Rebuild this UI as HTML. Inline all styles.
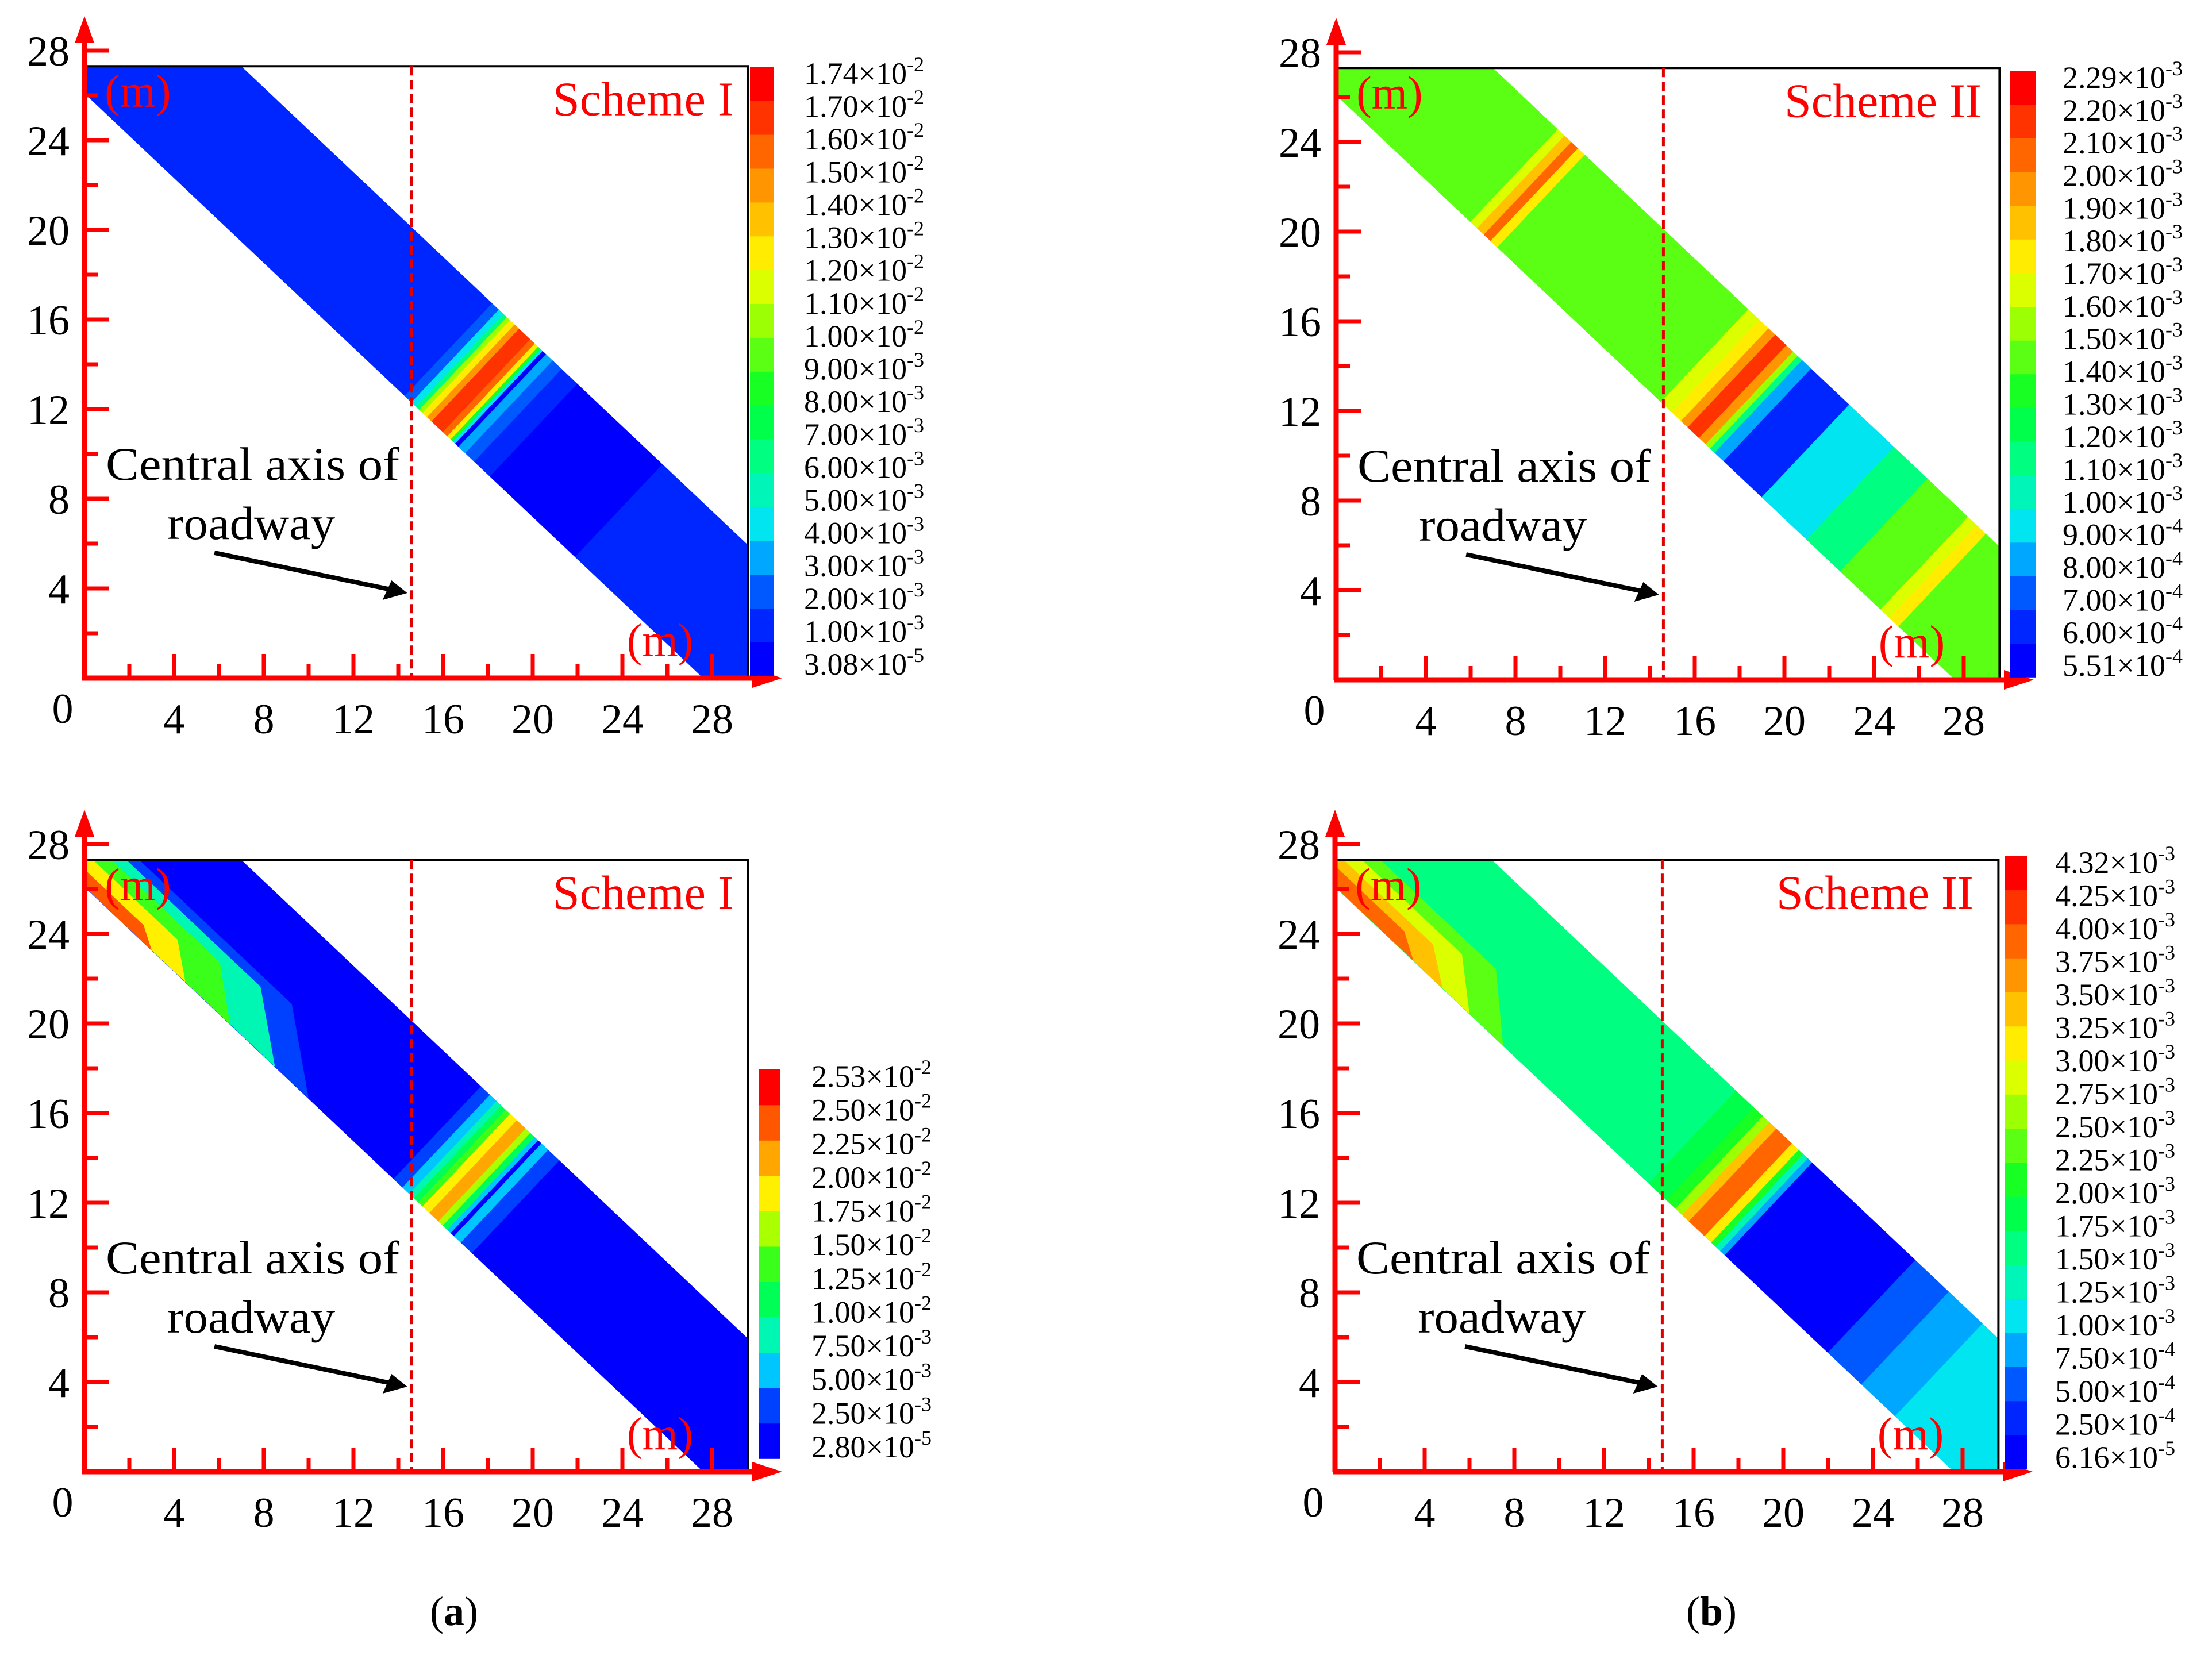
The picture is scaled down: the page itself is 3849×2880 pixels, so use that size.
<!DOCTYPE html>
<html><head><meta charset="utf-8"><style>
html,body{margin:0;padding:0;background:#fff;}
svg{display:block;}
text{font-family:"Liberation Serif",serif;}
</style></head><body>
<svg id="fig" width="3849" height="2880" viewBox="0 0 3849 2880" xmlns="http://www.w3.org/2000/svg"></svg>
<script>
// ---- data ----
const levelsA = [3.08e-5,1e-3,2e-3,3e-3,4e-3,5e-3,6e-3,7e-3,8e-3,9e-3,1e-2,1.1e-2,1.2e-2,1.3e-2,1.4e-2,1.5e-2,1.6e-2,1.7e-2,1.74e-2];
const labelsA = ["1.74|-2","1.70|-2","1.60|-2","1.50|-2","1.40|-2","1.30|-2","1.20|-2","1.10|-2","1.00|-2","9.00|-3","8.00|-3","7.00|-3","6.00|-3","5.00|-3","4.00|-3","3.00|-3","2.00|-3","1.00|-3","3.08|-5"];
const stripeTA = [-8,14.3,14.6,14.8,14.95,15.1,15.3,15.5,16.0,16.2,16.35,16.45,16.55,16.7,17.0,17.4,18.1,21.9];
const stripeVA = [1.5e-3,2.5e-3,4.5e-3,6.5e-3,1.05e-2,1.25e-2,1.45e-2,1.65e-2,1.55e-2,1.2e-2,8e-3,4.5e-3,5e-4,3.5e-3,2.5e-3,1.5e-3,5e-4,1.5e-3];

const levelsB = [5.51e-4,6e-4,7e-4,8e-4,9e-4,1e-3,1.1e-3,1.2e-3,1.3e-3,1.4e-3,1.5e-3,1.6e-3,1.7e-3,1.8e-3,1.9e-3,2e-3,2.1e-3,2.2e-3,2.29e-3];
const labelsB = ["2.29|-3","2.20|-3","2.10|-3","2.00|-3","1.90|-3","1.80|-3","1.70|-3","1.60|-3","1.50|-3","1.40|-3","1.30|-3","1.20|-3","1.10|-3","1.00|-3","9.00|-4","8.00|-4","7.00|-4","6.00|-4","5.51|-4"];
const stripeTB = [-8,6,6.3,6.6,6.9,7.2,14.5,15,15.4,15.7,16.2,16.5,16.7,16.9,17.3,19,21,22.5,24.3,24.7,25.1];
const stripeVB = [1.45e-3,1.6e-3,1.8e-3,2.0e-3,1.75e-3,1.45e-3,1.6e-3,1.75e-3,1.95e-3,2.15e-3,1.9e-3,1.5e-3,1.1e-3,8.5e-4,6.5e-4,9.5e-4,1.1e-3,1.45e-3,1.6e-3,1.75e-3,1.45e-3];

const levelsC = [2.8e-5,2.5e-3,5e-3,7.5e-3,1e-2,1.25e-2,1.5e-2,1.75e-2,2e-2,2.25e-2,2.5e-2,2.53e-2];
const labelsC = ["2.53|-2","2.50|-2","2.25|-2","2.00|-2","1.75|-2","1.50|-2","1.25|-2","1.00|-2","7.50|-3","5.00|-3","2.50|-3","2.80|-5"];
const stripeTC = [-8,13.8,14.2,14.5,14.7,14.9,15.1,15.4,15.8,16.0,16.2,16.35,16.5,16.8,17.3];
const stripeVC = [1.2e-3,3.5e-3,6e-3,8.5e-3,1.1e-2,1.4e-2,1.9e-2,2.1e-2,1.6e-2,1.1e-2,6e-3,1e-3,6e-3,3.5e-3,1.2e-3];
const hotVC = [4e-3,8e-3,1.3e-2,1.8e-2,2.3e-2];
const hotEndC = [10,8.5,6.5,4.5,3];
const hotWC = [0.45,0.38,0.3,0.2,0.1];

const levelsD = [6.16e-5,2.5e-4,5e-4,7.5e-4,1e-3,1.25e-3,1.5e-3,1.75e-3,2e-3,2.25e-3,2.5e-3,2.75e-3,3e-3,3.25e-3,3.5e-3,3.75e-3,4e-3,4.25e-3,4.32e-3];
const labelsD = ["4.32|-3","4.25|-3","4.00|-3","3.75|-3","3.50|-3","3.25|-3","3.00|-3","2.75|-3","2.50|-3","2.25|-3","2.00|-3","1.75|-3","1.50|-3","1.25|-3","1.00|-3","7.50|-4","5.00|-4","2.50|-4","6.16|-5"];
const stripeTD = [-8,14,14.8,15.2,15.5,15.8,16.5,16.8,17.0,17.2,17.4,22,23.5,25];
const stripeVD = [1.6e-3,1.8e-3,2.1e-3,2.6e-3,3.4e-3,3.9e-3,3.2e-3,2.2e-3,1.3e-3,8e-4,1.5e-4,6e-4,9e-4,1.1e-3];
const hotVD = [2.3e-3,2.8e-3,3.3e-3,3.9e-3];
const hotEndD = [7.5,6,4.8,3.5];
const hotWD = [0.4,0.3,0.2,0.12];

const xTicks = [0,4,8,12,16,20,24,28];
const yTicks = [4,8,12,16,20,24,28];

// ---- rendering ----
const NS = "http://www.w3.org/2000/svg";
const svg = document.getElementById('fig');
function mk(tag, attrs, parent){const e=document.createElementNS(NS,tag);for(const k in attrs)e.setAttribute(k,attrs[k]);(parent||svg).appendChild(e);return e;}
const S = 39, XMAX = 29.6, YMAX = 27.3;
const stops=[[0,[0,0,255]],[0.1,[0,64,255]],[0.22,[0,225,255]],[0.33,[0,255,150]],[0.45,[0,255,40]],[0.6,[170,255,0]],[0.68,[255,255,0]],[0.85,[255,130,0]],[1,[255,0,0]]];
function jet(f){for(let i=1;i<stops.length;i++){if(f<=stops[i][0]){const a=stops[i-1],b=stops[i];const u=(f-a[0])/(b[0]-a[0]);const c=a[1].map((v,j)=>Math.round(v+(b[1][j]-v)*u));return `rgb(${c[0]},${c[1]},${c[2]})`;}}return 'rgb(255,0,0)';}
function colorFor(v,levels){const n=levels.length-1;let k=0;for(let i=0;i<n;i++){if(v>=levels[i])k=i;}return jet(k/(n-1));}

function panel(id,ox,oy,levels,labels,T,V,cb,hot,schemeText,schemeX){
  const X=x=>ox+x*S, Y=y=>oy-y*S;
  const g=mk('g',{});
  
  
  const clip=mk('clipPath',{id:'clip'+id},g);
  mk('rect',{x:X(0),y:Y(YMAX),width:XMAX*S,height:YMAX*S},clip);
  const band=mk('g',{'clip-path':`url(#clip${id})`},g);
  
  
  const lo=t=>[t,26.1-0.945*t], up=t=>[t+3.89,30.22-0.945*t];
  const pt=p=>X(p[0]).toFixed(1)+','+Y(p[1]).toFixed(1);
  for(let i=0;i<T.length;i++){
    const t0=T[i], t1=(i+1<T.length)?T[i+1]:36;
    const poly=mk('polygon',{points:[lo(t0),up(t0),up(t1),lo(t1)].map(pt).join(' '),fill:colorFor(V[i],levels),stroke:colorFor(V[i],levels),'stroke-width':1},band);
    
    
  }
  if(hot){
    for(let i=0;i<hot.v.length;i++){
      const e=hot.e[i], w=hot.w[i];
      const a=lo(-2), b=lo(e), c0=lo(e*0.75), d0=lo(-2);
      const c=[c0[0]+3.89*w,c0[1]+4.12*w], d=[d0[0]+3.89*w,d0[1]+4.12*w];
      const poly=mk('polygon',{points:[a,b,c,d].map(pt).join(' '),fill:colorFor(hot.v[i],levels)},band);
      
      
    }
  }
  const fr=mk('polyline',{points:`${X(0)},${Y(YMAX)} ${X(XMAX)},${Y(YMAX)} ${X(XMAX)},${Y(0)}`,fill:'none',stroke:'#000','stroke-width':4},g);
  
  
  const dl=mk('line',{x1:X(14.6),y1:Y(YMAX),x2:X(14.6),y2:Y(0),stroke:'#e00000','stroke-width':5,'stroke-dasharray':'16,8'},g);
  
  
  const ax=mk('g',{fill:'#ff0000',stroke:'#ff0000'},g);
  
  
  mk('line',{x1:X(0),y1:Y(0),x2:X(0),y2:oy-1110,'stroke-width':9},ax);
  mk('polygon',{points:`${X(0)-17},${oy-1105} ${X(0)+17},${oy-1105} ${X(0)},${oy-1152}`,stroke:'none'},ax);
  mk('line',{x1:X(0)-4,y1:Y(0),x2:ox+1165,y2:Y(0),'stroke-width':9},ax);
  mk('polygon',{points:`${ox+1162},${oy-17} ${ox+1162},${oy+17} ${ox+1214},${oy}`,stroke:'none'},ax);
  for(let v=2;v<=28;v+=2){
    const major=v%4===0;
    mk('line',{x1:X(v),y1:oy,x2:X(v),y2:oy-(major?42:24),'stroke-width':7},ax);
    mk('line',{x1:ox,y1:Y(v),x2:ox+(major?43:24),y2:Y(v),'stroke-width':7},ax);
  }
  xTicks.forEach(v=>{
    const t=mk('text',{x:v===0?ox-38:X(v),y:v===0?oy+78:oy+96,'font-size':74,'text-anchor':'middle',fill:'#000'},g);
    t.textContent=String(v);
    
    
  });
  yTicks.forEach(v=>{
    const t=mk('text',{x:ox-26,y:Y(v)+26,'font-size':74,'text-anchor':'end',fill:'#000'},g);
    t.textContent=String(v);
    
    
  });
  const m1=mk('text',{x:X(0.9),y:Y(25.5),'font-size':80,fill:'#ff0000'},g);
  m1.textContent='(m)';
  
  
  const m2=mk('text',{x:X(24.2),y:Y(1.0),'font-size':80,fill:'#ff0000'},g);
  m2.textContent='(m)';
  
  
  const sc=mk('text',{x:schemeX,y:Y(YMAX)+85,'font-size':84,fill:'#ff0000'},g);
  sc.textContent=schemeText;
  
  
  const c1=mk('text',{x:X(0.95),y:oy-345,'font-size':82,fill:'#000',textLength:511,lengthAdjust:'spacingAndGlyphs'},g);
  c1.textContent='Central axis of';
  
  
  const c2=mk('text',{x:X(3.7),y:oy-242,'font-size':82,fill:'#000',textLength:292,lengthAdjust:'spacingAndGlyphs'},g);
  c2.textContent='roadway';
  
  
  const ar=mk('g',{},g);
  
  
  mk('line',{x1:X(5.8),y1:oy-218,x2:X(13.8),y2:oy-153,stroke:'#000','stroke-width':8},ar);
  mk('polygon',{points:`${X(14.4)},${oy-148} ${X(13.3)},${oy-136} ${X(13.7)},${oy-170}`,fill:'#000'},ar);
  const n=levels.length-1, ch=(cb.y1-cb.y0)/n;
  const cbg=mk('g',{},g);
  
  
  for(let k=0;k<n;k++){
    mk('rect',{x:cb.x,y:(cb.y1-(k+1)*ch).toFixed(1),width:cb.w,height:(ch+0.8).toFixed(1),fill:jet(k/(n-1))},cbg);
  }
  const ly0=cb.y0+12, ly1=cb.y1-20, ls=(ly1-ly0)/(labels.length-1);
  labels.forEach((s,i)=>{
    const [m,e]=s.split('|');
    const t=mk('text',{x:cb.lx,y:(ly0+i*ls+18).toFixed(1),'font-size':54,fill:'#000'},cbg);
    
    
    const a=mk('tspan',{},t); a.textContent=m+'\u00d710';
    const b=mk('tspan',{dy:-22,'font-size':36},t); b.textContent=e;
  });
}

panel('a-top',147,1180,levelsA,labelsA,stripeTA,stripeVA,{x:1305,w:42,y0:116,y1:1176,lx:1399},null,'Scheme I',962);
panel('b-top',2325,1183,levelsB,labelsB,stripeTB,stripeVB,{x:3498,w:45,y0:123,y1:1178,lx:3589},null,'Scheme  II',3105);
panel('a-bottom',147,2561,levelsC,labelsC,stripeTC,stripeVC,{x:1321,w:37,y0:1861,y1:2538,lx:1412},{v:hotVC,e:hotEndC,w:hotWC},'Scheme I',962);
panel('b-bottom',2323,2561,levelsD,labelsD,stripeTD,stripeVD,{x:3488,w:39,y0:1489,y1:2556,lx:3576},{v:hotVD,e:hotEndD,w:hotWD},'Scheme  II',3091);

[['(a)',790],['(b)',2978]].forEach(([s,x])=>{
  const t=mk('text',{x:x,y:2828,'font-size':72,'text-anchor':'middle',fill:'#000'});
  
  
  const p1=mk('tspan',{},t);p1.textContent='(';
  const p2=mk('tspan',{'font-weight':'bold'},t);p2.textContent=s[1];
  const p3=mk('tspan',{},t);p3.textContent=')';
});
</script>
</body></html>
